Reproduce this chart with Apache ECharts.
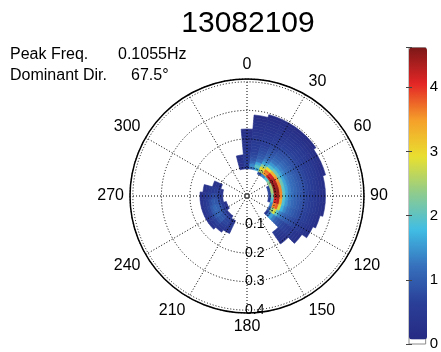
<!DOCTYPE html>
<html>
<head>
<meta charset="utf-8">
<script src="https://cdn.jsdelivr.net/npm/echarts@6/dist/echarts.min.js"></script>
<style>
  html, body { margin: 0; padding: 0; background: #fff; }
  #main { width: 441px; height: 352px; }
</style>
</head>
<body>
<div id="main"></div>
<script>
// frequency bins (Hz), radius of the polar plot
const freqs = [0.05, 0.06, 0.07, 0.08, 0.09, 0.10, 0.11, 0.12, 0.13, 0.14, 0.15, 0.16, 0.17,
  0.18, 0.19, 0.20, 0.21, 0.22, 0.23, 0.24, 0.25, 0.26, 0.27, 0.28, 0.29];
// direction bins (deg, clockwise from north)
const dirs = [350, 0, 10, 20, 30, 40, 50, 60, 70, 80, 90, 100, 110, 120, 130, 140,
  210, 220, 230, 240, 250, 260, 270, 280, 290];
// spectral energy, one row per direction, one column per frequency (trailing zeros left out)
const energy = [
  [0, 0, 0, 0, 0, .25, .3, .35, .3, .25],
  [0, 0, 0, 0, 0, .45, .55, .55, .5, .48, .45, .42, .4, .37, .34, .31, .28, .25, .2],
  [0, 0, 0, 0, 0, 1.2, 1.4, 1.1, .9, .78, .7, .64, .59, .55, .51, .47, .43, .39, .35, .32, .28, .25, .2, .15],
  [0, 0, 0, 0, 0, 1.6, 2.0, 1.6, 1.2, 1.0, .9, .82, .75, .68, .62, .56, .5, .45, .4, .36, .32, .28, .23, .18, .12],
  [0, 0, 0, 0, .8, 2.6, 3.0, 2.3, 1.6, 1.3, 1.1, 1.0, .9, .82, .74, .66, .58, .52, .46, .41, .36, .31, .26, .2, .14],
  [0, 0, 0, 0, 1.4, 3.5, 3.7, 2.9, 1.9, 1.5, 1.25, 1.1, 1.0, .9, .82, .74, .66, .59, .52, .46, .4, .34, .28, .21, .14],
  [0, 0, 0, 0, 1.9, 4.2, 4.1, 3.3, 2.1, 1.6, 1.35, 1.2, 1.08, .97, .88, .79, .7, .63, .56, .49, .42, .35, .28, .21, .14],
  [0, 0, 0, 0, 2.3, 4.5, 4.3, 3.5, 2.1, 1.6, 1.35, 1.2, 1.08, .97, .88, .79, .7, .63, .56, .49, .42, .35, .28, .2],
  [0, 0, 0, .7, 2.5, 4.6, 4.4, 3.6, 2.1, 1.6, 1.35, 1.2, 1.1, 1.0, .9, .8, .72, .64, .57, .5, .42, .35, .27, .19],
  [0, 0, 0, .7, 2.5, 4.6, 4.5, 3.6, 2.0, 1.6, 1.35, 1.2, 1.1, 1.0, .9, .8, .72, .64, .56, .48, .4, .32, .24],
  [0, 0, 0, .6, 2.2, 4.4, 4.5, 3.6, 2.0, 1.55, 1.3, 1.18, 1.08, .98, .88, .79, .7, .62, .54, .46, .38, .3, .22],
  [0, 0, 0, .5, 1.9, 4.1, 4.3, 3.4, 1.9, 1.5, 1.28, 1.15, 1.05, .95, .86, .77, .68, .6, .52, .44, .36, .28, .2],
  [0, 0, 0, 0, 1.4, 3.6, 3.8, 2.8, 1.7, 1.4, 1.2, 1.08, .98, .88, .8, .71, .63, .55, .47, .4, .32, .24],
  [0, 0, 0, 0, .9, 2.4, 2.8, 2.0, 1.4, 1.2, 1.05, .95, .86, .78, .7, .62, .54, .47, .4, .33, .26],
  [0, 0, 0, 0, .4, 1.2, 1.6, 1.3, 1.05, .9, .8, .72, .64, .57, .5, .44, .38, .32, .26],
  [0, 0, 0, 0, 0, 0, 0, 0, 0, 0, 0, .5, .45, .4, .35, .3],
  [0, 0, 0, 0, 0, .35, .45, .5, .45, .35],
  [0, 0, 0, 0, .35, .55, .7, .7, .6, .45, .35],
  [0, 0, 0, 0, .4, .7, .9, .95, .85, .65, .45, .35],
  [0, 0, 0, .3, .5, .8, 1.0, 1.05, .95, .7, .5, .35],
  [0, 0, 0, .3, .5, .8, 1.05, 1.1, .95, .7, .5, .35],
  [0, 0, 0, 0, .45, .7, .9, .95, .8, .6, .45, .35],
  [0, 0, 0, 0, .4, .6, .75, .75, .65, .5, .4, .3],
  [0, 0, 0, 0, .35, .45, .55, .5, .45, .35, .3],
  [0, 0, 0, 0, 0, .3, .35, .3]
];
const dirTicks = [180, 210, 240, 270, 300, 0, 30, 60, 90, 120, 150];
const freqTicks = [0.1, 0.2, 0.3, 0.4];
const colorTicks = [0, 1, 2, 3, 4];
const peakFreq = '0.1055Hz';
const domDir = '67.5\u00b0';

const FONT = '"Liberation Sans", Arial, sans-serif';
const halfF = 0.005, halfD = 5;

// the angle axis runs 180..540 so that 180 sits at the bottom, where the radius labels go
const toAxis = d => (d < 180 ? d + 360 : d);

const cells = [];
energy.forEach((row, i) => {
  row.forEach((v, j) => {
    if (v > 0) cells.push([freqs[j], toAxis(dirs[i]), v]);
  });
});

function renderCell(params, api) {
  const f = api.value(0), a = api.value(1);
  const cx = params.coordSys.cx, cy = params.coordSys.cy;
  const p0 = api.coord([f - halfF, a]);
  const p1 = api.coord([f + halfF, a]);
  const q0 = api.coord([f, a - halfD]);
  const q1 = api.coord([f, a + halfD]);
  let s = Math.atan2(q0[1] - cy, q0[0] - cx);
  let e = Math.atan2(q1[1] - cy, q1[0] - cx);
  if (e < s) e += Math.PI * 2;
  const c = api.visual('color');
  return {
    type: 'sector',
    shape: {
      cx: cx, cy: cy,
      r0: Math.hypot(p0[0] - cx, p0[1] - cy),
      r: Math.hypot(p1[0] - cx, p1[1] - cy),
      startAngle: s, endAngle: e, clockwise: true
    },
    style: { fill: c, stroke: c, lineWidth: 0.6 }
  };
}

const chart = echarts.init(document.getElementById('main'));
const option = {
  backgroundColor: '#fff',
  animation: false,
  graphic: [
    { type: 'text', x: 248, y: 24, style: { text: '13082109', align: 'center', verticalAlign: 'middle', font: '30px ' + FONT, fill: '#000' } },
    { type: 'text', x: 10, y: 55, style: { text: 'Peak Freq.', verticalAlign: 'middle', font: '16px ' + FONT, fill: '#000' } },
    { type: 'text', x: 118, y: 55, style: { text: peakFreq, verticalAlign: 'middle', font: '16px ' + FONT, fill: '#000' } },
    { type: 'text', x: 10, y: 75.5, style: { text: 'Dominant Dir.', verticalAlign: 'middle', font: '16px ' + FONT, fill: '#000' } },
    { type: 'text', x: 131, y: 75.5, style: { text: domDir, verticalAlign: 'middle', font: '16px ' + FONT, fill: '#000' } }
  ],
  polar: { center: [247, 196], radius: 117 },
  angleAxis: {
    type: 'value', min: 180, max: 540, interval: 30,
    startAngle: -90, clockwise: true, z: 5,
    axisLine: { lineStyle: { color: '#000', width: 1.5 } },
    axisTick: { show: false },
    axisLabel: {
      color: '#000', fontSize: 16, fontFamily: FONT, margin: 6,
      align: 'center', verticalAlign: 'middle',
      formatter: v => {
        const d = v % 360;
        if (v === 540 || dirTicks.indexOf(d) < 0) return '';
        return String(d);
      }
    },
    splitLine: { lineStyle: { color: '#000', width: 1, type: [1, 2] } }
  },
  radiusAxis: {
    type: 'value', min: 0, max: 0.41, interval: 0.1, z: 5,
    axisLine: { show: false },
    axisTick: { show: false },
    axisLabel: {
      color: '#000', fontSize: 14, fontFamily: FONT, margin: -2,
      formatter: v => (freqTicks.some(t => Math.abs(t - v) < 1e-6) ? v.toFixed(1) : '')
    },
    splitLine: { lineStyle: { color: '#000', width: 1, type: [1, 2] } }
  },
  grid: { left: 409, top: 47.5, width: 18, height: 296.5, show: true, borderColor: '#8a8a8a', borderWidth: 1, backgroundColor: '#fff' },
  xAxis: { type: 'value', show: false, min: 0, max: 1 },
  yAxis: [
    {
      type: 'value', min: 0, max: 4.62, interval: 1, position: 'right', z: 10,
      axisLine: { show: false },
      axisTick: { inside: true, length: 3, lineStyle: { color: '#444' } },
      axisLabel: {
        color: '#000', fontSize: 15, fontFamily: FONT, margin: 4,
        formatter: v => (colorTicks.indexOf(v) >= 0 ? String(v) : '')
      },
      splitLine: { show: false }
    },
    {
      type: 'value', min: 0, max: 4.62, interval: 1, position: 'left', z: 10,
      axisLine: { show: false },
      axisTick: { inside: true, length: 3, lineStyle: { color: '#444' } },
      axisLabel: { show: false },
      splitLine: { show: false }
    }
  ],
  visualMap: {
    type: 'continuous', seriesIndex: 0, dimension: 2,
    min: 0.07, max: 4.62, calculable: false, show: true,
    left: 409, top: 47.5, padding: 0, itemWidth: 18, itemHeight: 292,
    text: null, showLabel: false,
    inRange: {
      color: ['#262a82', '#2a3f98', '#3670bc', '#40bde4', '#8ecb8e', '#e8e030', '#f5a02a', '#e42626', '#7c1818']
    }
  },
  series: [
    {
      type: 'custom', coordinateSystem: 'polar',
      encode: { radius: 0, angle: 1 },
      renderItem: renderCell,
      data: cells,
      z: 2
    },
    {
      type: 'scatter', coordinateSystem: 'polar',
      data: [[0, 360]],
      symbol: 'circle', symbolSize: 4,
      itemStyle: { color: '#fff', borderColor: '#000', borderWidth: 1 },
      z: 6, silent: true
    }
  ]
};
chart.setOption(option);
</script>
</body>
</html>
